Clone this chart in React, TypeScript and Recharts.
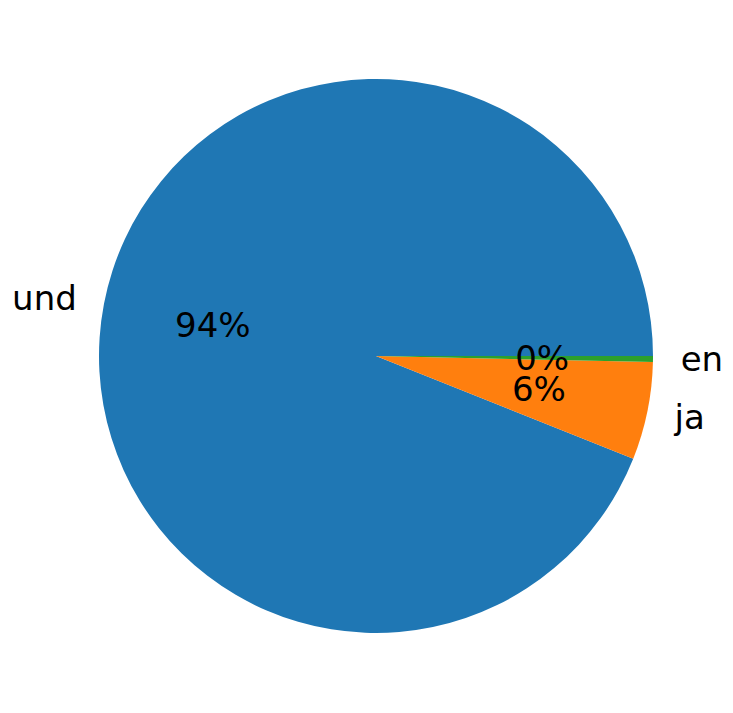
import React from 'react';
import { PieChart, Pie, Cell } from 'recharts';

const LABELS = ['und', 'ja', 'en'];
const VALUES = [93.95, 5.7, 0.35];
const COLORS = ['#1f77b4', '#ff7f0e', '#2ca02c'];

const data = LABELS.map((name, i) => ({ name, value: VALUES[i] }));

const RADIAN = Math.PI / 180;
const FONT = 'DejaVu Sans, sans-serif';

const renderLabel = (props: any) => {
  const { cx, cy, midAngle, outerRadius, percent, name } = props;
  const cos = Math.cos(-midAngle * RADIAN);
  const sin = Math.sin(-midAngle * RADIAN);
  const nx = cx + outerRadius * 1.1 * cos;
  const ny = cy + outerRadius * 1.1 * sin;
  const px = cx + outerRadius * 0.6 * cos;
  const py = cy + outerRadius * 0.6 * sin;
  return (
    <g>
      <text
        x={nx}
        y={ny}
        fill="#000"
        fontSize={34}
        fontFamily={FONT}
        textAnchor={nx < cx ? 'end' : 'start'}
        dominantBaseline="central"
      >
        {name}
      </text>
      <text
        x={px}
        y={py}
        fill="#000"
        fontSize={34}
        fontFamily={FONT}
        textAnchor="middle"
        dominantBaseline="central"
      >
        {`${(percent * 100).toFixed(0)}%`}
      </text>
    </g>
  );
};

export default function App() {
  return (
    <div style={{ position: 'absolute', left: 0, top: 0, width: 733, height: 713, background: '#fff' }}>
      <PieChart width={733} height={713} margin={{ top: 0, right: 0, bottom: 0, left: 0 }}>
        <Pie
          data={data}
          dataKey="value"
          nameKey="name"
          cx={376}
          cy={356}
          outerRadius={277}
          startAngle={0}
          endAngle={360}
          stroke="none"
          label={renderLabel}
          labelLine={false}
          isAnimationActive={false}
        >
          {data.map((d, i) => (
            <Cell key={d.name} fill={COLORS[i]} />
          ))}
        </Pie>
      </PieChart>
    </div>
  );
}
